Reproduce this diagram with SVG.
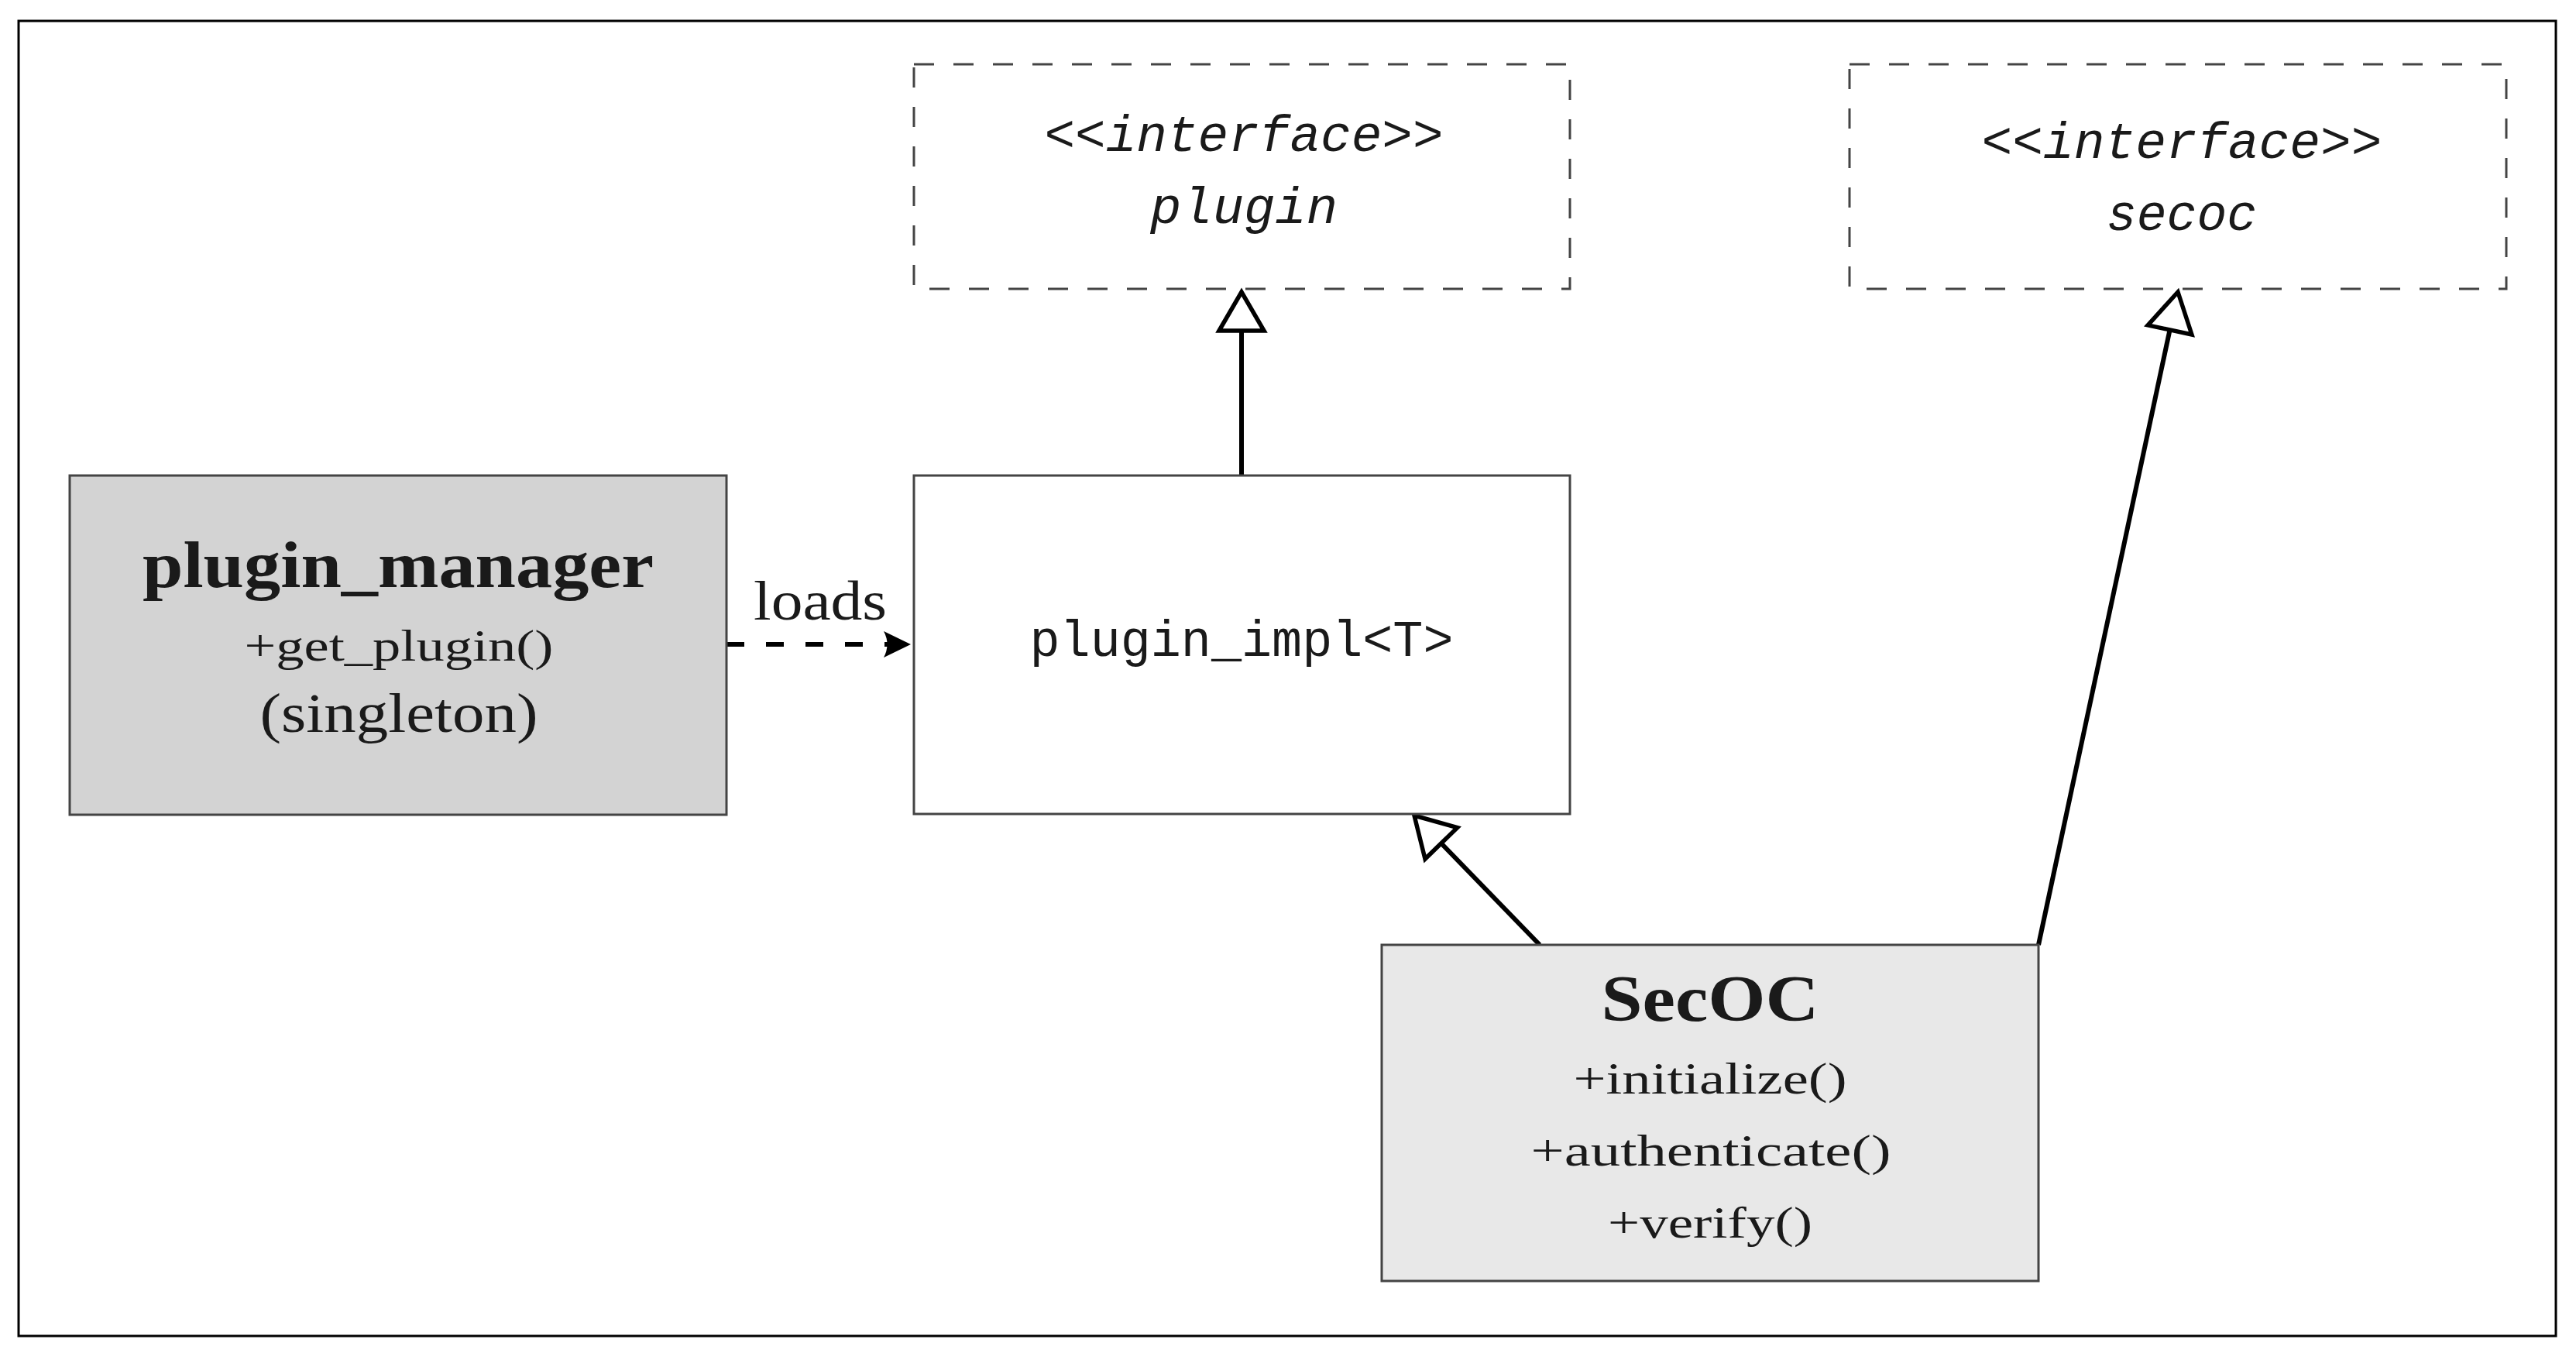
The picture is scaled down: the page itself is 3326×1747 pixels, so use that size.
<svg xmlns="http://www.w3.org/2000/svg" width="3326" height="1747" viewBox="0 0 3326 1747">
  <style>
    .box { stroke: #444; stroke-width: 3; }
    .iface { fill: none; stroke: #444; stroke-width: 3; stroke-dasharray: 26 25; }
    .serif { font-family: "Liberation Serif", "DejaVu Serif", serif; fill: #1a1a1a; text-anchor: middle; }
    .bold { font-weight: bold; font-size: 84px; }
    .method { font-size: 56px; }
    .mono { font-family: "Liberation Mono", "DejaVu Sans Mono", monospace; fill: #1a1a1a; text-anchor: middle; font-size: 66px; }
    .it { font-style: italic; }
    .conn { stroke: #000; stroke-width: 6; fill: none; }
    .dash { stroke-dasharray: 23 28; }
  </style>
  <defs>
    <marker id="hollow" markerUnits="userSpaceOnUse" viewBox="-5 -35 62 70" refX="50" refY="0" markerWidth="62" markerHeight="70" orient="auto">
      <path d="M0,-29 L50,0 L0,29 Z" fill="#fff" stroke="#000" stroke-width="5.5" stroke-linejoin="miter"/>
    </marker>
    <marker id="stealth" markerUnits="userSpaceOnUse" viewBox="0 -20 40 40" refX="36" refY="0" markerWidth="40" markerHeight="40" orient="auto">
      <path d="M36,0 L1,-17 Q10,0 1,17 Z" fill="#000"/>
    </marker>
  </defs>

  <rect x="24" y="27" width="3276" height="1698" fill="#fff" stroke="#000" stroke-width="3"/>

  <g id="connectors">
    <line class="conn dash" x1="938" y1="832" x2="1176" y2="832" marker-end="url(#stealth)"/>
    <text class="serif" x="1059" y="800" font-size="72" textLength="172" lengthAdjust="spacingAndGlyphs">loads</text>
    <line class="conn" x1="1603" y1="614" x2="1603" y2="377" marker-end="url(#hollow)"/>
    <line class="conn" x1="1988" y1="1220" x2="1826" y2="1053" marker-end="url(#hollow)"/>
    <line class="conn" x1="2632" y1="1220" x2="2812" y2="377" marker-end="url(#hollow)"/>
  </g>

  <g id="iface-plugin">
    <rect class="iface" x="1180" y="83" width="847" height="290"/>
    <text class="mono it" x="1606" y="195" textLength="515" lengthAdjust="spacingAndGlyphs">&lt;&lt;interface&gt;&gt;</text>
    <text class="mono it" x="1606" y="288" textLength="242" lengthAdjust="spacingAndGlyphs">plugin</text>
  </g>

  <g id="iface-secoc">
    <rect class="iface" x="2388" y="83" width="848" height="290"/>
    <text class="mono it" x="2817" y="204" textLength="517" lengthAdjust="spacingAndGlyphs">&lt;&lt;interface&gt;&gt;</text>
    <text class="mono it" x="2817" y="297" textLength="194" lengthAdjust="spacingAndGlyphs">secoc</text>
  </g>

  <g id="plugin-manager">
    <rect class="box" x="90" y="614" width="848" height="438" fill="#d3d3d3"/>
    <text class="serif bold" x="514" y="758" textLength="660" lengthAdjust="spacingAndGlyphs">plugin_manager</text>
    <text class="serif method" x="515" y="853" textLength="399" lengthAdjust="spacingAndGlyphs">+get_plugin()</text>
    <text class="serif" x="515" y="945" font-size="72" textLength="359" lengthAdjust="spacingAndGlyphs">(singleton)</text>
  </g>

  <g id="plugin-impl">
    <rect class="box" x="1180" y="614" width="847" height="437" fill="#fff"/>
    <text class="mono" x="1603" y="847" textLength="547" lengthAdjust="spacingAndGlyphs">plugin_impl&lt;T&gt;</text>
  </g>

  <g id="secoc-class">
    <rect class="box" x="1784" y="1220" width="848" height="434" fill="#e8e8e8"/>
    <text class="serif bold" x="2208" y="1318" textLength="281" lengthAdjust="spacingAndGlyphs">SecOC</text>
    <text class="serif method" x="2208" y="1412" textLength="353" lengthAdjust="spacingAndGlyphs">+initialize()</text>
    <text class="serif method" x="2209" y="1505" textLength="465" lengthAdjust="spacingAndGlyphs">+authenticate()</text>
    <text class="serif method" x="2208" y="1598" textLength="264" lengthAdjust="spacingAndGlyphs">+verify()</text>
  </g>
</svg>
